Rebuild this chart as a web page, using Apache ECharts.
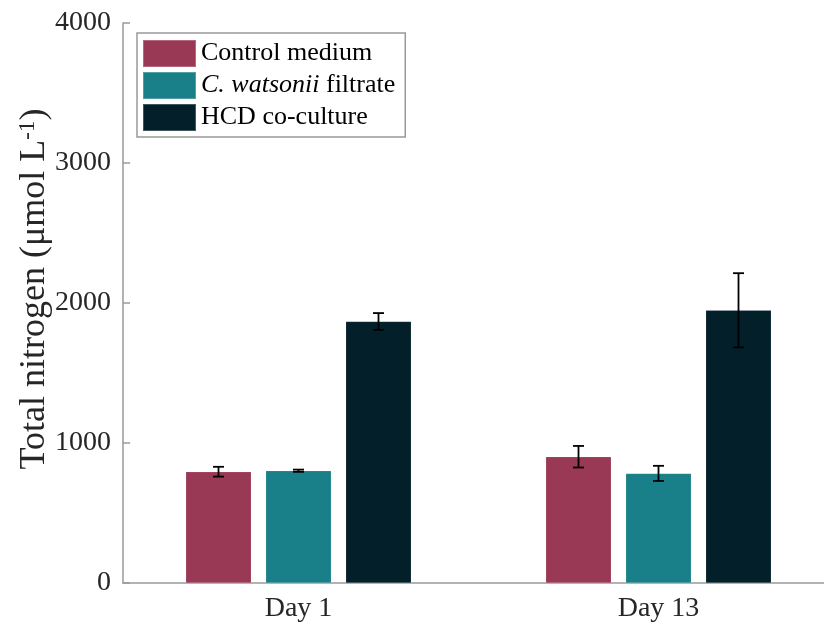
<!DOCTYPE html>
<html>
<head>
<meta charset="utf-8">
<script src="https://cdn.jsdelivr.net/npm/echarts@6/dist/echarts.min.js"></script>
<style>html,body{margin:0;padding:0;background:#fff}#c{width:824px;height:627px}</style>
</head>
<body>
<div id="c"></div>
<script>
var categories = ['Day 1', 'Day 13'];
var seriesNames = ['Control medium', 'C. watsonii filtrate', 'HCD co-culture'];
var controlMean = [795, 902];
var controlErr = [35, 77];
var filtrateMean = [802, 783];
var filtrateErr = [8, 54];
var hcdMean = [1868, 1948];
var hcdErr = [60, 265];
var yTicks = [0, 1000, 2000, 3000, 4000];

var colors = ['#9A3955', '#198089', '#03202A'];
var FONT = "'Liberation Serif', 'Times New Roman', serif";
var means = [controlMean, filtrateMean, hcdMean];
var errs = [controlErr, filtrateErr, hcdErr];
var BAR_W = 65.5, GAP = 14.5;

var chart = echarts.init(document.getElementById('c'), null, {renderer: 'canvas'});

var series = [];
means.forEach(function (m, i) {
  series.push({
    name: seriesNames[i],
    type: 'bar',
    xAxisIndex: 1,
    yAxisIndex: 1,
    data: m,
    barWidth: BAR_W,
    barGap: (GAP / BAR_W * 100) + '%',
    itemStyle: {color: colors[i], borderColor: 'rgba(255,255,255,0.25)', borderWidth: 0.5},
    emphasis: {disabled: true},
    z: 2
  });
});
means.forEach(function (m, i) {
  var d = m.map(function (v, k) { return [k, v, errs[i][k]]; });
  series.push({
    type: 'custom',
    xAxisIndex: 1,
    yAxisIndex: 1,
    data: d,
    z: 5,
    silent: true,
    renderItem: function (params, api) {
      var x = api.value(0), v = api.value(1), e = api.value(2);
      var top = api.coord([x, v + e]);
      var bot = api.coord([x, v - e]);
      var off = (i - 1) * (BAR_W + GAP);
      var cx = top[0] + off;
      var cap = 5.5;
      var st = {stroke: '#000', lineWidth: 1.8};
      return {
        type: 'group',
        children: [
          {type: 'line', shape: {x1: cx, y1: top[1], x2: cx, y2: bot[1]}, style: st},
          {type: 'line', shape: {x1: cx - cap, y1: top[1], x2: cx + cap, y2: top[1]}, style: st},
          {type: 'line', shape: {x1: cx - cap, y1: bot[1], x2: cx + cap, y2: bot[1]}, style: st}
        ]
      };
    }
  });
});

var option = {
  animation: false,
  backgroundColor: '#fff',
  grid: [
    {left: 123, top: 23, right: 0, bottom: 44, containLabel: false, outerBoundsMode: 'none'},
    {left: 118.5, top: 23, width: 720, bottom: 44, containLabel: false, outerBoundsMode: 'none'}
  ],
  legend: {
    data: seriesNames,
    orient: 'vertical',
    left: 137,
    top: 33,
    padding: [6, 10, 5, 5],
    itemWidth: 53,
    itemHeight: 27,
    itemGap: 3,
    icon: 'rect',
    borderColor: '#999',
    borderWidth: 1.5,
    backgroundColor: '#fff',
    selectedMode: false,
    textStyle: {
      fontFamily: FONT, fontSize: 26, color: '#000', lineHeight: 27,
      rich: {i: {fontFamily: FONT, fontSize: 26, fontStyle: 'italic', color: '#000', lineHeight: 27}}
    },
    formatter: function (name) {
      if (name === 'C. watsonii filtrate') return '{i|C. watsonii} filtrate';
      return name;
    }
  },
  xAxis: [
    {
      type: 'value', gridIndex: 0, min: 0, max: 1,
      axisLine: {show: true, lineStyle: {color: '#9a9a9a', width: 1.5}},
      axisTick: {show: false}, axisLabel: {show: false}, splitLine: {show: false}
    },
    {
      type: 'category', gridIndex: 1, data: categories,
      axisLine: {show: false}, axisTick: {show: false},
      axisLabel: {fontFamily: FONT, fontSize: 28, color: '#262626', margin: 12}
    }
  ],
  yAxis: [
    {
      type: 'value', gridIndex: 0, min: 0, max: 4000, interval: 1000,
      axisLine: {show: true, lineStyle: {color: '#9a9a9a', width: 1.5}},
      axisTick: {show: true, inside: true, length: 7, lineStyle: {color: '#9a9a9a', width: 1.5}},
      splitLine: {show: false},
      axisLabel: {
        fontFamily: FONT, fontSize: 28, color: '#262626', margin: 12,
        formatter: function (v) { return yTicks.indexOf(v) >= 0 ? String(v) : ''; }
      },
      name: 'Total nitrogen (μmol L{sup|-1})',
      nameLocation: 'middle',
      nameGap: 70,
      nameMoveOverlap: false,
      nameTextStyle: {
        fontFamily: FONT, fontSize: 36, color: '#262626',
        padding: [0, 0, 0, 28],
        rich: {sup: {fontFamily: FONT, fontSize: 23, color: '#262626', verticalAlign: 'top', padding: [0, 0, 14, 0]}}
      }
    },
    {
      type: 'value', gridIndex: 1, min: 0, max: 4000, interval: 1000, show: false
    }
  ],
  series: series
};
chart.setOption(option);
</script>
</body>
</html>
